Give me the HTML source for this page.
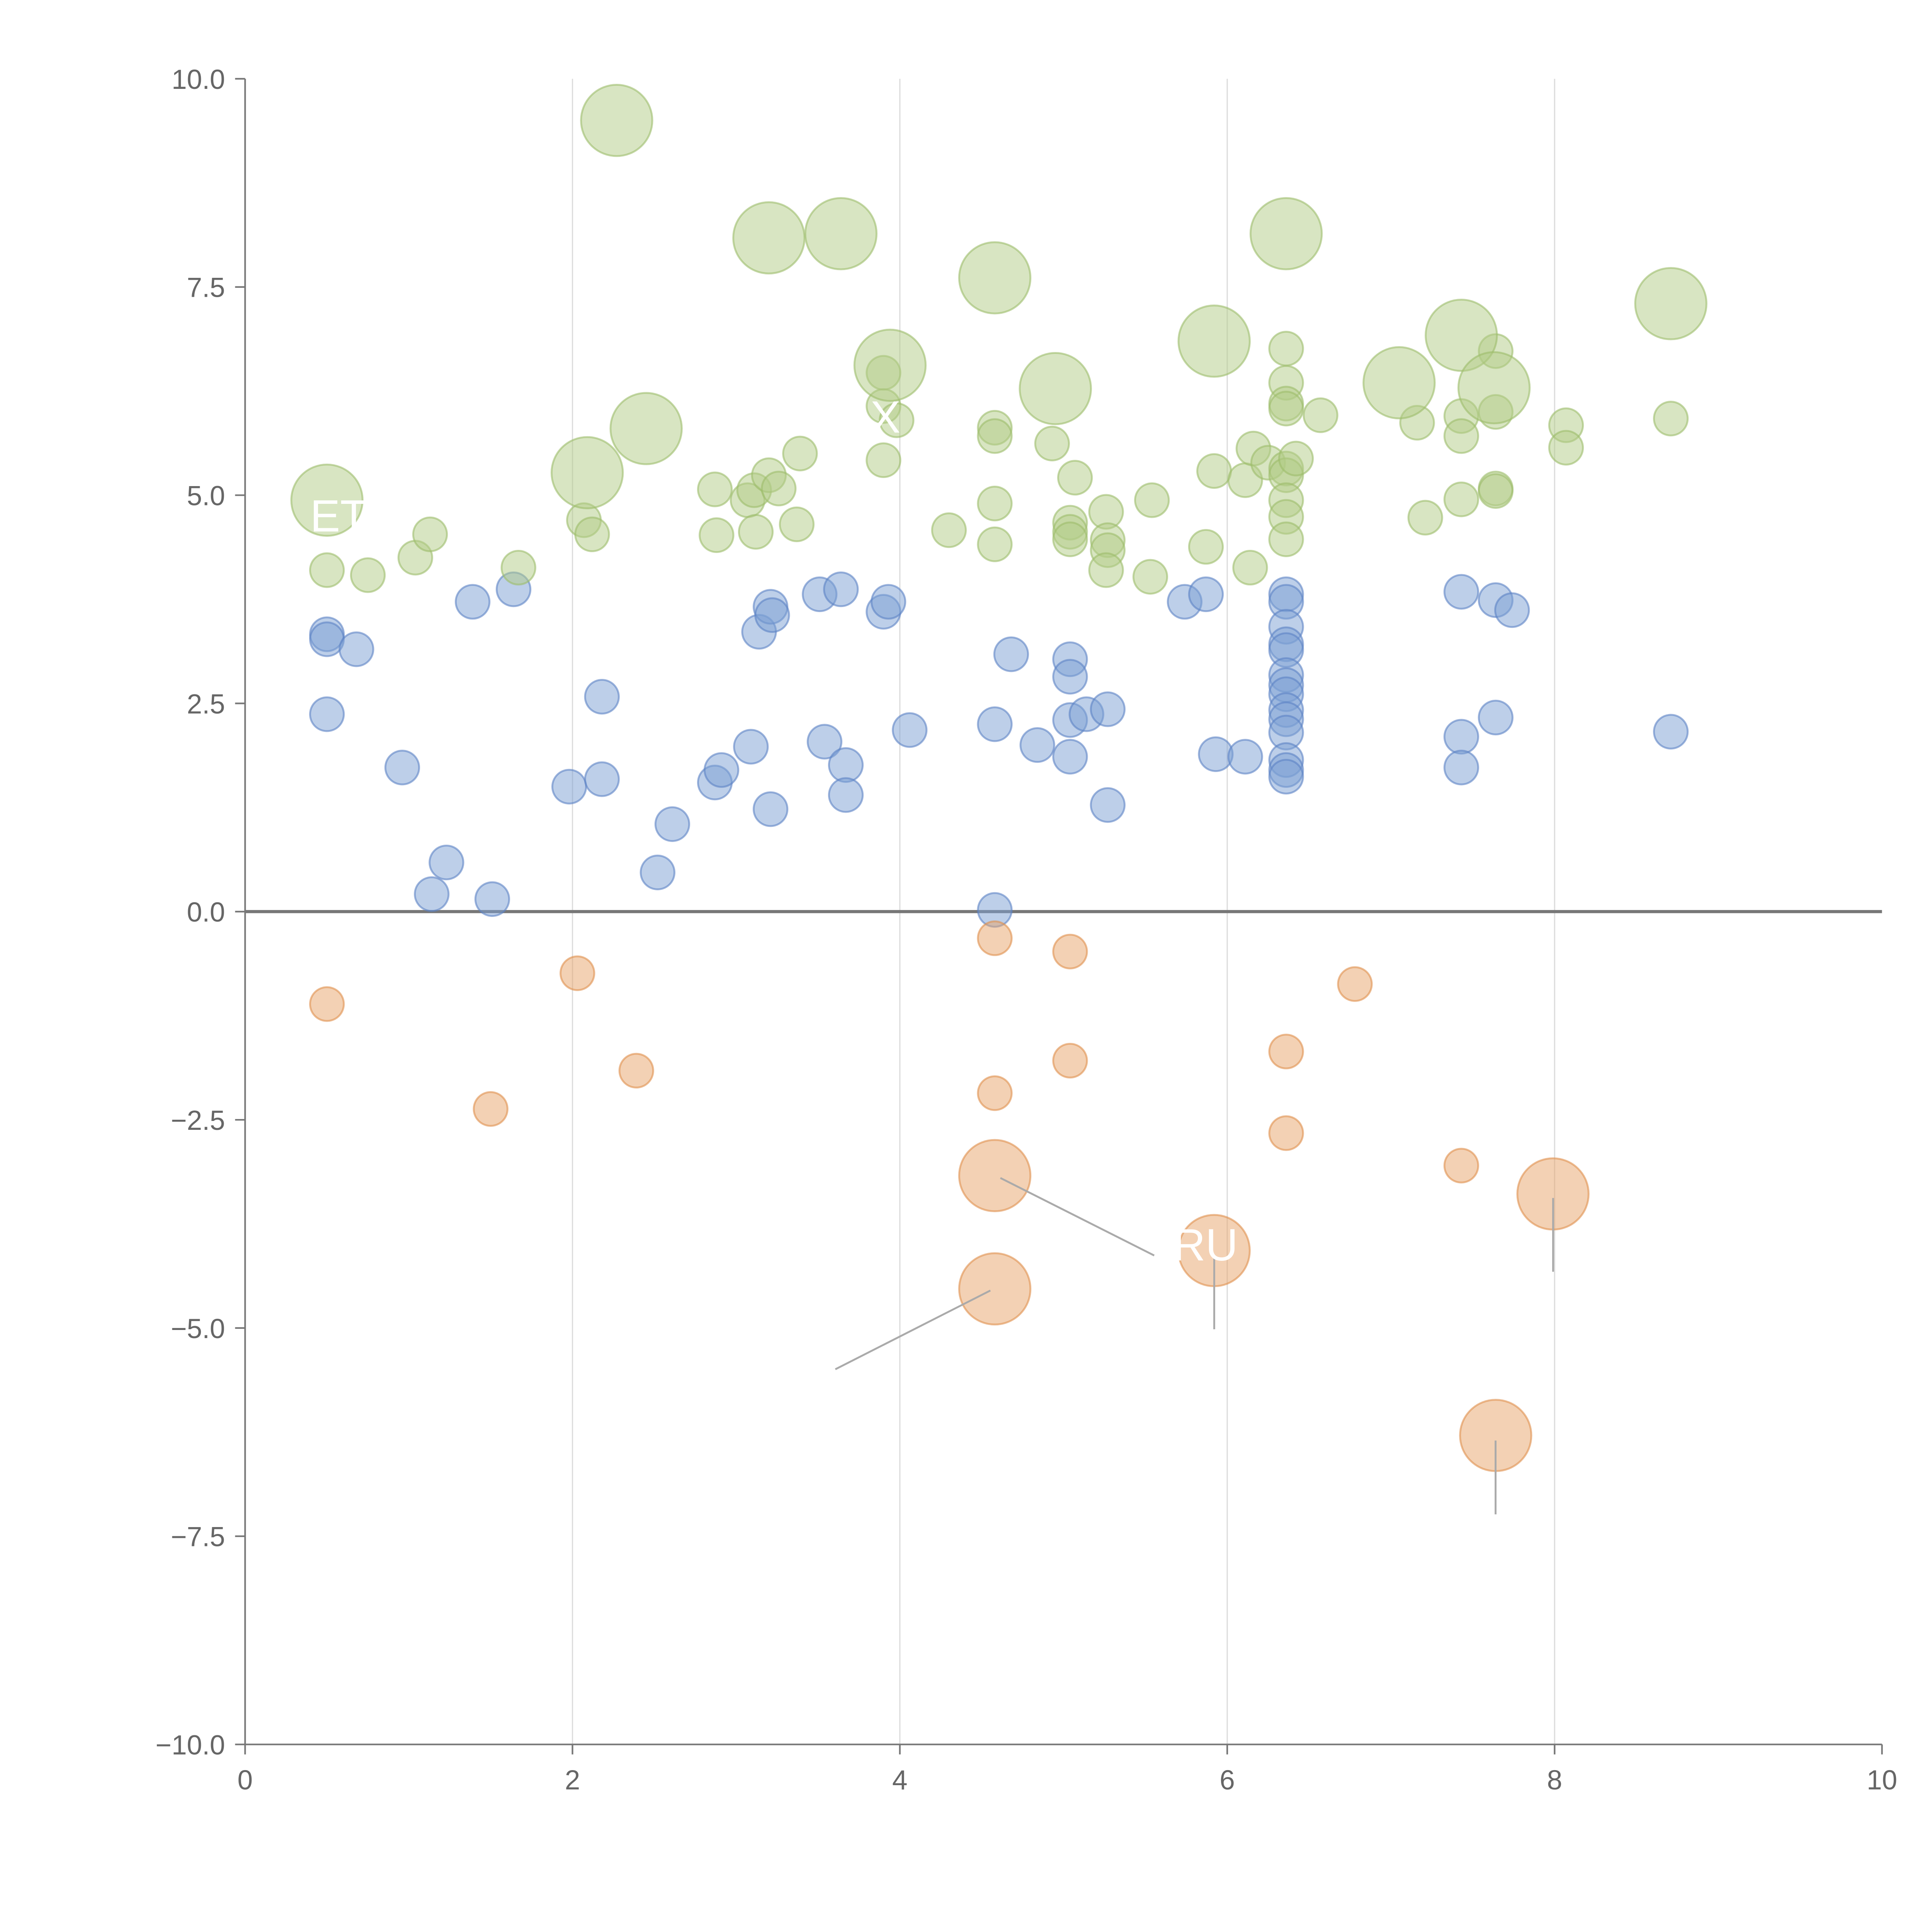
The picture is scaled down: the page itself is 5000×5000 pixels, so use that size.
<!DOCTYPE html>
<html><head><meta charset="utf-8"><style>
html,body{margin:0;padding:0;background:#fff;}
svg{display:block;}
text{font-family:"Liberation Sans",sans-serif;}
</style></head><body>
<svg id="chart" width="5000" height="5000" viewBox="0 0 1545 1545" xmlns="http://www.w3.org/2000/svg">
<g id="grid"></g>
<g id="axes"></g>
<g id="marks"></g>
<g id="annot"></g>
</svg>
<script>
const xTicks=[0,2,4,6,8,10];
const yTicks=[-10,-7.5,-5,-2.5,0,2.5,5,7.5,10];
const yTickLabels=["\u221210.0","\u22127.5","\u22125.0","\u22122.5","0.0","2.5","5.0","7.5","10.0"];
const greenBigX=[0.5,2.09,2.45,2.27,3.2,3.64,3.94,4.58,4.95,5.92,6.36,7.05,7.43,7.63,8.71];
const greenBigY=[4.94,5.27,5.8,9.5,8.09,8.14,6.56,7.61,6.28,6.85,8.14,6.35,6.92,6.29,7.3];
const greenX=[0.5,0.75,1.04,1.13,1.67,2.07,2.12,2.87,2.88,3.07,3.12,3.11,3.2,3.26,3.37,3.39,3.9,3.9,3.98,3.9,4.3,4.58,4.58,4.58,4.58,4.93,5.04,5.04,5.04,5.07,5.26,5.27,5.27,5.26,5.54,5.53,5.87,5.92,6.11,6.14,6.16,6.25,6.36,6.36,6.36,6.36,6.36,6.36,6.36,6.36,6.36,6.42,6.57,7.16,7.21,7.43,7.43,7.43,7.64,7.64,7.64,7.64,8.07,8.07,8.71];
const greenY=[4.1,4.04,4.25,4.53,4.13,4.7,4.53,5.07,4.52,4.94,4.56,5.06,5.24,5.08,4.65,5.5,6.47,6.07,5.9,5.42,4.58,5.81,5.71,4.9,4.41,5.62,4.67,4.56,4.47,5.21,4.8,4.46,4.34,4.1,4.94,4.02,4.38,5.29,5.18,4.13,5.56,5.39,6.76,6.35,6.1,6.04,5.32,5.24,4.94,4.74,4.47,5.44,5.96,5.87,4.73,5.95,5.71,4.95,6.73,6.0,5.08,5.05,5.84,5.57,5.92];
const blueX=[0.5,0.5,0.5,0.68,0.96,1.14,1.23,1.39,1.51,1.64,1.98,2.18,2.18,2.52,2.61,2.87,2.91,3.09,3.14,3.21,3.22,3.21,3.51,3.54,3.64,3.67,3.67,3.9,3.93,4.06,4.58,4.58,4.68,4.84,5.04,5.04,5.04,5.04,5.14,5.27,5.27,5.74,5.87,5.93,6.11,6.36,6.36,6.36,6.36,6.36,6.36,6.36,6.36,6.36,6.36,6.36,6.36,6.36,6.36,7.43,7.43,7.43,7.64,7.64,7.74,8.71];
const blueY=[3.33,3.27,2.37,3.15,1.73,0.21,0.59,3.72,0.15,3.87,1.5,2.58,1.59,0.47,1.05,1.55,1.7,1.98,3.36,3.66,3.56,1.23,3.81,2.04,3.87,1.76,1.4,3.6,3.72,2.18,2.25,0.02,3.09,2.0,3.03,2.82,2.3,1.86,2.37,2.43,1.28,3.72,3.81,1.89,1.86,3.81,3.72,3.42,3.21,3.14,2.84,2.72,2.61,2.42,2.31,2.15,1.82,1.7,1.62,3.84,2.1,1.73,3.74,2.33,3.62,2.16];
const orangeX=[0.5,1.5,2.03,2.39,4.58,4.58,5.04,5.04,6.36,6.36,6.78,7.43];
const orangeY=[-1.11,-2.37,-0.74,-1.91,-0.32,-2.18,-0.48,-1.79,-1.68,-2.66,-0.87,-3.05];
const orangeBigX=[4.58,4.58,5.92,7.99,7.64];
const orangeBigY=[-3.17,-4.53,-4.07,-3.39,-6.29];

const NS="http://www.w3.org/2000/svg";
const X0=196,X1=1505,Y0=1395,Y1=63;
function sx(v){return X0+(v-0)/(10-0)*(X1-X0);}
function sy(v){return Y0-(v+10)/20*(Y0-Y1);}
function mk(tag,attrs,parent){const e=document.createElementNS(NS,tag);for(const k in attrs)e.setAttribute(k,attrs[k]);parent.appendChild(e);return e;}
const grid=document.getElementById('grid'),axes=document.getElementById('axes'),marks=document.getElementById('marks'),annot=document.getElementById('annot');
[2,4,6,8].forEach(v=>{const l=mk('line',{x1:sx(v),x2:sx(v),y1:Y1,y2:Y0,stroke:'#dddddd','stroke-width':1},grid);

});
let a=mk('line',{x1:X0,x2:X0,y1:Y1,y2:Y0,stroke:'#777','stroke-width':1.3},axes);


a=mk('line',{x1:X0,x2:X1,y1:Y0,y2:Y0,stroke:'#777','stroke-width':1.3},axes);


xTicks.forEach(v=>{const t=mk('line',{x1:sx(v),x2:sx(v),y1:Y0,y2:Y0+8,stroke:'#777','stroke-width':1.3},axes);


const tx=mk('text',{x:sx(v),y:Y0+36,'text-anchor':'middle','font-size':22,fill:'#666'},axes);tx.textContent=v;

});
yTicks.forEach((v,i)=>{const t=mk('line',{x1:X0-8,x2:X0,y1:sy(v),y2:sy(v),stroke:'#777','stroke-width':1.3},axes);


const tx=mk('text',{x:X0-16,y:sy(v)+8,'text-anchor':'end','font-size':22,fill:'#666'},axes);tx.textContent=yTickLabels[i];

});
function series(xs,ys,r,fill,stroke,name){xs.forEach((x,i)=>{const c=mk('circle',{cx:sx(x),cy:sy(ys[i]),r:r,fill:fill,'fill-opacity':0.5,stroke:stroke,'stroke-opacity':0.6,'stroke-width':1.5},marks);

});}
series(blueX,blueY,13.5,'#7b9fd4','#5b82c4','blue-bubble');
series(greenX,greenY,13.5,'#b2cc85','#9cbd6a','green-bubble');
series(greenBigX,greenBigY,28.5,'#b2cc85','#9cbd6a','green-big-bubble');
series(orangeX,orangeY,13.5,'#e8a46a','#e0904c','orange-bubble');
series(orangeBigX,orangeBigY,28.5,'#e8a46a','#e0904c','orange-big-bubble');
const zl=mk('line',{x1:X0,x2:X1,y1:sy(0),y2:sy(0),stroke:'#777','stroke-width':2.5},axes);


[[800,942,923,1004],[792,1032,668,1095],[971,1005,971,1063],[1242,958,1242,1017],[1196,1152,1196,1211]].forEach(p=>{const l=mk('line',{x1:p[0],y1:p[1],x2:p[2],y2:p[3],stroke:'#aaa','stroke-width':1.5},annot);

});
[["ET",248,425],["X",696,346],["RU",938,1008]].forEach(p=>{const t=mk('text',{x:p[1],y:p[2],'font-size':36,fill:'#fff'},annot);t.textContent=p[0];

});
</script>
</body></html>
